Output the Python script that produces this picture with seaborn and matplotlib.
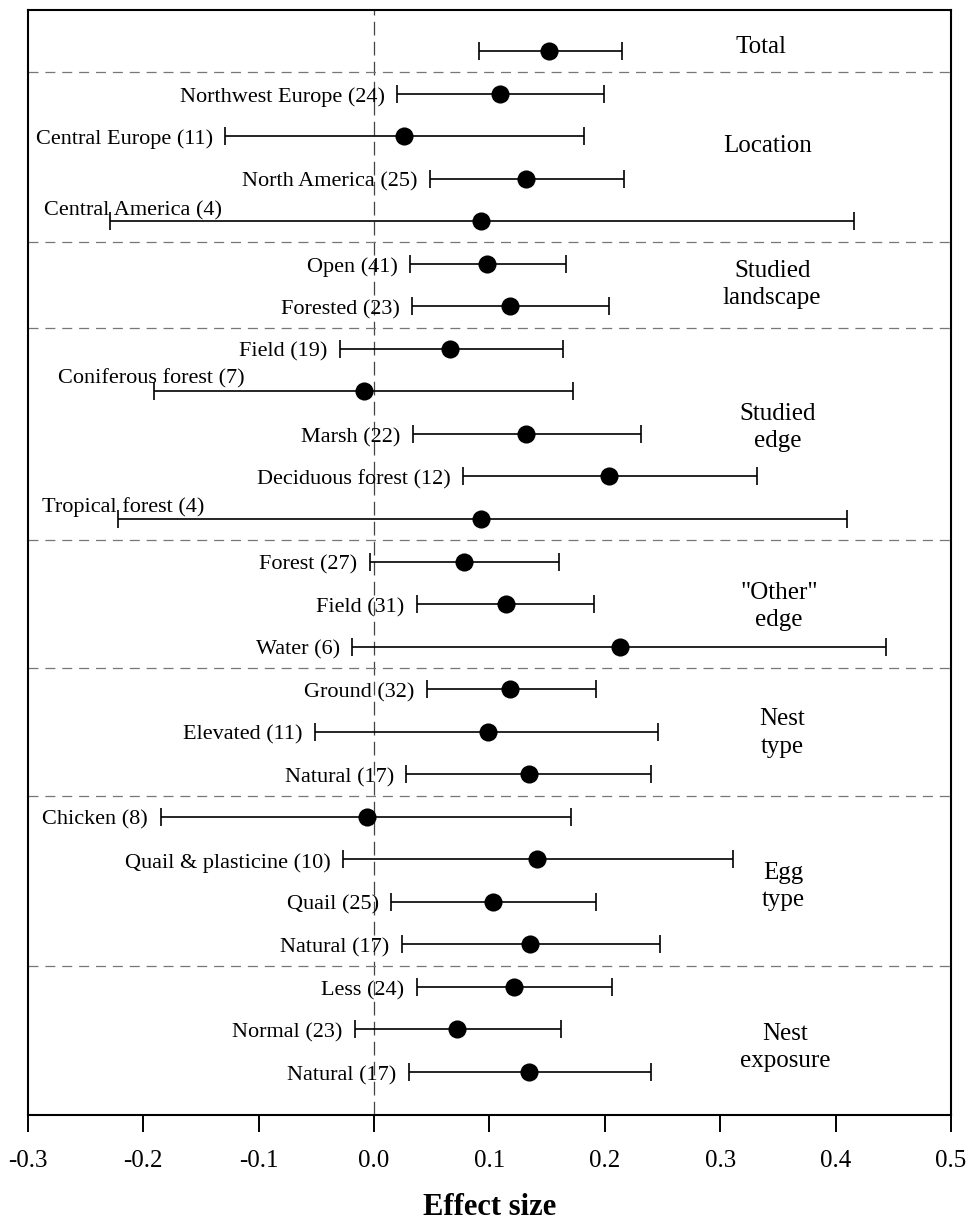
import matplotlib
matplotlib.use("Agg")
import matplotlib.pyplot as plt
import seaborn as sns
import pandas as pd

# Effect sizes with 95% confidence limits, one row per subgroup
labels = [
    "", "Northwest Europe (24)", "Central Europe (11)", "North America (25)",
    "Central America (4)", "Open (41)", "Forested (23)", "Field (19)",
    "Coniferous forest (7)", "Marsh (22)", "Deciduous forest (12)",
    "Tropical forest (4)", "Forest (27)", "Field (31)", "Water (6)",
    "Ground (32)", "Elevated (11)", "Natural (17)", "Chicken (8)",
    "Quail & plasticine (10)", "Quail (25)", "Natural (17)", "Less (24)",
    "Normal (23)", "Natural (17)",
]
effect = [
    0.152, 0.109, 0.026, 0.132, 0.093, 0.098, 0.118, 0.066, -0.009, 0.132,
    0.204, 0.093, 0.078, 0.114, 0.213, 0.118, 0.099, 0.134, -0.006, 0.141,
    0.103, 0.135, 0.121, 0.072, 0.134,
]
ci_low = [
    0.091, 0.020, -0.129, 0.048, -0.229, 0.031, 0.033, -0.030, -0.191, 0.034,
    0.077, -0.222, -0.004, 0.037, -0.019, 0.046, -0.051, 0.028, -0.185, -0.027,
    0.015, 0.024, 0.037, -0.017, 0.030,
]
ci_high = [
    0.215, 0.199, 0.182, 0.217, 0.416, 0.166, 0.204, 0.164, 0.172, 0.231,
    0.332, 0.410, 0.160, 0.191, 0.444, 0.192, 0.246, 0.240, 0.171, 0.311,
    0.192, 0.248, 0.206, 0.162, 0.240,
]
group_names = ["Total", "Location", "Studied\nlandscape", "Studied\nedge",
               '"Other"\nedge', "Nest\ntype", "Egg\ntype", "Nest\nexposure"]
group_sizes = [1, 4, 2, 5, 3, 3, 4, 3]

df = pd.DataFrame({"label": labels, "effect": effect,
                   "lo": ci_low, "hi": ci_high})
df["row"] = range(len(df))

# Layout: where each group title sits (x in data units, y in row units)
group_title_pos = [(0.335, -0.1), (0.341, 2.23), (0.345, 5.48), (0.350, 8.84),
                   (0.351, 13.05), (0.354, 16.03), (0.355, 19.63), (0.356, 23.43)]
# Labels written above the line, offset (px) from the lower limit
above_offsets = {4: (-66, 13), 8: (-96, 16), 11: (-76, 15)}

sns.set_theme(style="white")
plt.rcParams["font.family"] = ["Liberation Serif", "DejaVu Serif"]
plt.rcParams["font.size"] = 16
plt.rcParams["text.color"] = "black"
plt.rcParams["axes.labelcolor"] = "black"
plt.rcParams["xtick.color"] = "black"

dpi = 100
fig = plt.figure(figsize=(9.70, 12.23), dpi=dpi)
ax = fig.add_axes([28 / 970, 108 / 1223, 923 / 970, 1105 / 1223])

# Confidence intervals
ax.errorbar(df["effect"], df["row"],
            xerr=[df["effect"] - df["lo"], df["hi"] - df["effect"]],
            fmt="none", ecolor="black", elinewidth=1.2, capsize=6.5,
            capthick=1.2, zorder=3)
# Point estimates
sns.scatterplot(data=df, x="effect", y="row", ax=ax, color="black",
                s=170, linewidth=0, zorder=4, legend=False)

# Zero reference line
ax.axvline(0, color="#444444", lw=0.9, ls=(0, (11, 5)), zorder=1)

# Group separators
bounds = []
acc = 0
for n in group_sizes[:-1]:
    acc += n
    bounds.append(acc - 0.5)
for b in bounds:
    ax.axhline(b, color="#777777", lw=0.9, ls=(0, (8, 5.5)), zorder=1)

# Row labels
for i, r in df.iterrows():
    if not r["label"]:
        continue
    if i in above_offsets:
        dx, dy = above_offsets[i]
        ax.annotate(r["label"], (r["lo"], r["row"]),
                    xytext=(dx * 0.72, (dy - 3) * 0.72),
                    textcoords="offset points", ha="left", va="center",
                    fontsize=16, color="black")
    else:
        ax.annotate(r["label"], (r["lo"], r["row"]), xytext=(-9, -2.5),
                    textcoords="offset points", ha="right", va="center",
                    fontsize=16, color="black")

# Group titles
for name, (gx, gy) in zip(group_names, group_title_pos):
    ax.text(gx, gy, name, ha="center", va="center", fontsize=18,
            linespacing=1.3, color="black")

ax.set_xlim(-0.3, 0.5)
ax.set_ylim(25.01, -0.964)
ax.set_xticks([-0.3, -0.2, -0.1, 0.0, 0.1, 0.2, 0.3, 0.4, 0.5])
ax.set_xticklabels(["-0.3", "-0.2", "-0.1", "0.0", "0.1", "0.2", "0.3",
                    "0.4", "0.5"])
ax.set_yticks([])
ax.set_ylabel("")
ax.tick_params(axis="x", direction="out", length=12, width=1.4, pad=13,
               labelsize=18, colors="black", bottom=True)
ax.set_xlabel("Effect size", fontsize=22, fontweight="bold", labelpad=15,
              color="black")
for sp in ax.spines.values():
    sp.set_color("black")
    sp.set_linewidth(1.5)
    sp.set_visible(True)

fig.savefig("out.png", dpi=dpi, facecolor="white")
